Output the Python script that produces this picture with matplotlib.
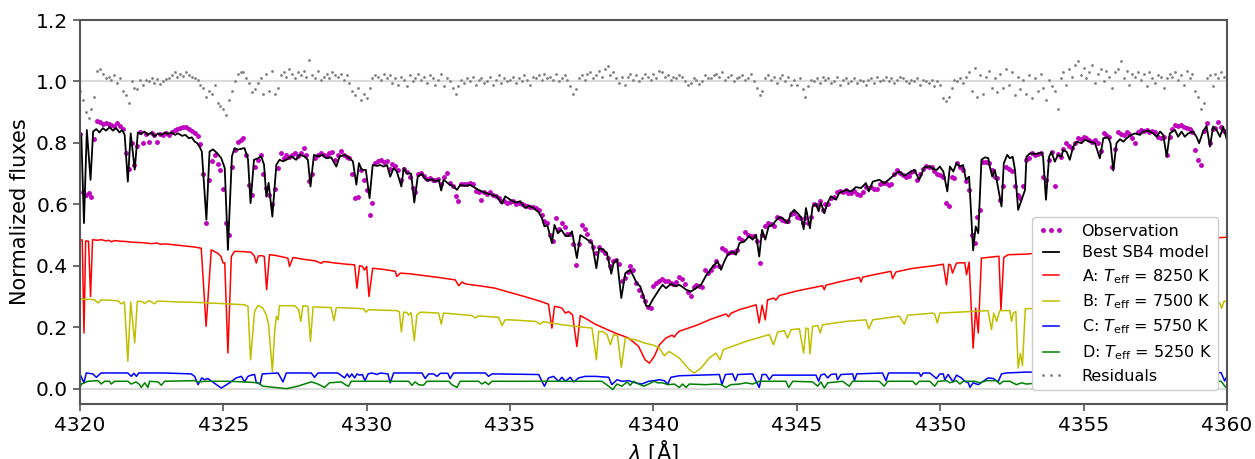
import numpy as np
import matplotlib
matplotlib.use("Agg")
import matplotlib.pyplot as plt

# observed spectrum, sampled every 0.1 A from 4320 to 4360
obs_wave = np.linspace(4320.0, 4360.0, 401)
obs_flux = [
    0.830, 0.640, 0.630, 0.636, 0.623, 0.812, 0.870, 0.868, 0.862, 0.864,
    0.860, 0.859, 0.855, 0.864, 0.855, 0.845, 0.766, 0.714, 0.800, 0.729,
    0.790, 0.837, 0.801, 0.828, 0.804, 0.832, 0.826, 0.804, 0.829, 0.826,
    0.832, 0.826, 0.836, 0.842, 0.845, 0.848, 0.851, 0.853, 0.845, 0.838,
    0.831, 0.821, 0.795, 0.700, 0.540, 0.680, 0.740, 0.760, 0.730, 0.712,
    0.650, 0.540, 0.500, 0.720, 0.777, 0.804, 0.810, 0.815, 0.760, 0.664,
    0.630, 0.723, 0.745, 0.761, 0.700, 0.652, 0.630, 0.600, 0.650, 0.718,
    0.766, 0.752, 0.761, 0.755, 0.761, 0.766, 0.758, 0.766, 0.783, 0.760,
    0.675, 0.700, 0.750, 0.761, 0.766, 0.761, 0.757, 0.766, 0.770, 0.745,
    0.760, 0.772, 0.761, 0.755, 0.750, 0.700, 0.620, 0.624, 0.712, 0.680,
    0.648, 0.565, 0.605, 0.735, 0.740, 0.745, 0.738, 0.742, 0.715, 0.730,
    0.725, 0.712, 0.680, 0.715, 0.706, 0.690, 0.653, 0.640, 0.700, 0.703,
    0.692, 0.684, 0.686, 0.680, 0.678, 0.683, 0.665, 0.690, 0.701, 0.668,
    0.660, 0.626, 0.610, 0.665, 0.667, 0.665, 0.668, 0.665, 0.645, 0.640,
    0.615, 0.640, 0.635, 0.640, 0.630, 0.626, 0.620, 0.610, 0.612, 0.605,
    0.608, 0.612, 0.600, 0.605, 0.600, 0.598, 0.595, 0.590, 0.592, 0.588,
    0.580, 0.565, 0.545, 0.540, 0.500, 0.480, 0.555, 0.520, 0.540, 0.525,
    0.505, 0.505, 0.470, 0.404, 0.470, 0.533, 0.520, 0.505, 0.480, 0.460,
    0.440, 0.460, 0.452, 0.440, 0.425, 0.400, 0.415, 0.420, 0.405, 0.350,
    0.360, 0.380, 0.398, 0.387, 0.345, 0.322, 0.300, 0.284, 0.265, 0.262,
    0.333, 0.345, 0.350, 0.358, 0.350, 0.350, 0.345, 0.340, 0.348, 0.362,
    0.358, 0.340, 0.316, 0.300, 0.330, 0.338, 0.333, 0.330, 0.387, 0.376,
    0.385, 0.400, 0.414, 0.400, 0.457, 0.450, 0.440, 0.446, 0.446, 0.452,
    0.490, 0.485, 0.510, 0.500, 0.496, 0.496, 0.480, 0.409, 0.500, 0.530,
    0.539, 0.535, 0.528, 0.560, 0.555, 0.550, 0.545, 0.545, 0.568, 0.571,
    0.560, 0.555, 0.540, 0.555, 0.539, 0.560, 0.600, 0.598, 0.610, 0.580,
    0.600, 0.600, 0.620, 0.625, 0.640, 0.645, 0.640, 0.647, 0.637, 0.638,
    0.642, 0.635, 0.630, 0.640, 0.658, 0.652, 0.655, 0.650, 0.650, 0.665,
    0.668, 0.669, 0.663, 0.665, 0.700, 0.712, 0.701, 0.696, 0.690, 0.692,
    0.706, 0.710, 0.680, 0.700, 0.715, 0.726, 0.723, 0.720, 0.707, 0.700,
    0.696, 0.690, 0.604, 0.593, 0.690, 0.685, 0.734, 0.720, 0.712, 0.675,
    0.647, 0.500, 0.473, 0.560, 0.582, 0.739, 0.739, 0.734, 0.712, 0.690,
    0.685, 0.615, 0.660, 0.723, 0.715, 0.707, 0.660, 0.630, 0.620, 0.660,
    0.745, 0.750, 0.766, 0.761, 0.763, 0.768, 0.690, 0.680, 0.745, 0.770,
    0.660, 0.765, 0.755, 0.780, 0.800, 0.790, 0.785, 0.800, 0.815, 0.812,
    0.820, 0.815, 0.808, 0.804, 0.810, 0.800, 0.775, 0.831, 0.826, 0.820,
    0.720, 0.780, 0.837, 0.830, 0.826, 0.835, 0.830, 0.815, 0.800, 0.835,
    0.842, 0.840, 0.842, 0.837, 0.840, 0.837, 0.820, 0.815, 0.820, 0.760,
    0.820, 0.845, 0.858, 0.855, 0.858, 0.853, 0.850, 0.845, 0.835, 0.777,
    0.745, 0.728, 0.840, 0.864, 0.800, 0.845, 0.850, 0.869, 0.853, 0.840,
    0.830,
]

# residuals (obs - model) on the same grid, in units of 1e-3, shifted to 1.0
resid_milli = [
    -30, -60, -100, -120, -90, -50, 35, 40, 25, 10,
    15, 5, 20, -5, 10, -30, -45, -70, 0, -20,
    -25, 5, -10, 5, 0, 10, -5, 8, -8, 3,
    8, 12, 20, 30, 15, 25, 18, 30, 22, 15,
    10, 5, -10, -20, -50, -30, -40, -10, -70, -80,
    -90, -110, -60, -30, 0, 25, 30, 32, 10, -5,
    -35, -25, -5, 10, -40, 25, -30, 35, -40, -20,
    20, 30, 15, 40, 25, 10, 30, 20, 35, 15,
    70, 20, 10, 35, 5, 15, 25, 10, 30, 20,
    15, 25, 5, 20, -5, -30, -45, -20, -60, -40,
    -55, -20, 10, 20, 15, 5, 25, 10, 20, -5,
    10, -10, 15, 5, -15, 20, 0, 10, 25, 5,
    15, -5, 20, 10, -10, 5, 25, -15, 10, 0,
    -20, -40, -15, 5, -5, 10, 0, 15, -10, 5,
    10, -5, 0, 15, -10, 5, 20, -5, 10, 0,
    5, 15, -5, 10, 0, 20, 5, -10, 15, 10,
    20, 5, 25, 10, 15, 5, 25, 0, 10, 20,
    5, -15, -40, -25, 10, 20, 5, 25, 30, 10,
    20, 35, 15, 40, 50, 20, 30, 10, -5, 15,
    -10, 15, 25, 5, 20, 0, 10, 25, 15, 5,
    25, 10, 35, 30, 15, 20, 5, 15, 10, 20,
    15, 0, -10, -5, 10, 5, -8, 0, 20, 10,
    10, 20, 25, 15, 30, 5, 15, 20, 0, 10,
    15, 20, 5, 10, 25, 0, -20, -45, -30, 10,
    20, 5, 15, -5, 10, 20, 0, 15, -10, 5,
    -10, 10, -25, -50, -15, 5, 0, 10, -5, 15,
    5, 10, -5, 0, 15, -10, 5, 10, -5, 0,
    10, -5, 5, 0, -10, 5, 10, -5, 15, 0,
    5, 15, 0, 10, -5, 5, 15, 10, 0, -5,
    5, 0, 10, -10, 5, 0, -5, 5, -15, 0,
    -10, -55, -65, -50, -20, 5, 0, 10, -5, 15,
    30, -30, 45, -50, 20, -40, 15, 35, -20, 10,
    -35, 25, -20, 40, -10, 30, -45, 15, -25, 5,
    -40, 20, -55, 10, -30, 25, -20, -60, 5, -15,
    -30, -90, 10, 30, -10, 40, 15, 55, 65, 20,
    45, 10, 30, 55, -5, 25, 40, 0, 35, 15,
    -20, 30, 40, 65, 10, 35, -10, 25, 15, 30,
    5, 25, -15, 30, 10, -5, 20, 15, -20, 10,
    25, 15, 30, 5, 20, -10, 35, 10, 25, -30,
    -50, -90, -70, 10, 20, -15, 25, 10, 30, 15,
    5,
]

# best-fit composite model, (wavelength, flux)
model = [
    (4320.00, 0.837), (4320.05, 0.820), (4320.14, 0.539), (4320.24, 0.842), (4320.37, 0.680),
    (4320.46, 0.837), (4320.57, 0.845), (4320.68, 0.834), (4320.80, 0.848), (4320.91, 0.840),
    (4321.03, 0.851), (4321.15, 0.840), (4321.26, 0.848), (4321.38, 0.834), (4321.47, 0.842),
    (4321.56, 0.826), (4321.67, 0.674), (4321.77, 0.831), (4321.91, 0.713), (4322.02, 0.834),
    (4322.14, 0.829), (4322.25, 0.837), (4322.37, 0.826), (4322.49, 0.834), (4322.60, 0.821),
    (4322.72, 0.831), (4322.84, 0.826), (4322.96, 0.834), (4323.07, 0.829), (4323.19, 0.834),
    (4323.31, 0.826), (4323.42, 0.831), (4323.56, 0.823), (4323.68, 0.826), (4323.80, 0.815),
    (4323.90, 0.818), (4324.00, 0.804), (4324.08, 0.800), (4324.17, 0.788), (4324.25, 0.772),
    (4324.41, 0.550), (4324.52, 0.772), (4324.64, 0.779), (4324.79, 0.766), (4324.93, 0.750),
    (4325.05, 0.718), (4325.16, 0.452), (4325.30, 0.756), (4325.39, 0.783), (4325.51, 0.778),
    (4325.63, 0.781), (4325.74, 0.783), (4325.86, 0.747), (4325.95, 0.604), (4326.07, 0.745),
    (4326.21, 0.750), (4326.32, 0.756), (4326.42, 0.729), (4326.50, 0.625), (4326.58, 0.670),
    (4326.71, 0.560), (4326.85, 0.729), (4326.96, 0.745), (4327.08, 0.740), (4327.20, 0.745),
    (4327.37, 0.756), (4327.54, 0.745), (4327.66, 0.761), (4327.83, 0.756), (4327.95, 0.745),
    (4328.04, 0.658), (4328.16, 0.761), (4328.30, 0.756), (4328.47, 0.761), (4328.59, 0.750),
    (4328.76, 0.753), (4328.94, 0.723), (4329.06, 0.756), (4329.23, 0.761), (4329.40, 0.750),
    (4329.52, 0.740), (4329.64, 0.664), (4329.73, 0.734), (4329.83, 0.712), (4329.97, 0.712),
    (4330.10, 0.620), (4330.21, 0.728), (4330.36, 0.725), (4330.47, 0.728), (4330.59, 0.723),
    (4330.71, 0.728), (4330.82, 0.690), (4330.94, 0.718), (4331.05, 0.707), (4331.21, 0.658),
    (4331.29, 0.718), (4331.40, 0.701), (4331.55, 0.700), (4331.66, 0.606), (4331.78, 0.690),
    (4331.93, 0.699), (4332.04, 0.682), (4332.16, 0.677), (4332.28, 0.682), (4332.39, 0.674),
    (4332.51, 0.680), (4332.60, 0.645), (4332.68, 0.680), (4332.80, 0.671), (4332.91, 0.663),
    (4333.03, 0.658), (4333.15, 0.647), (4333.26, 0.663), (4333.44, 0.660), (4333.61, 0.663),
    (4333.79, 0.653), (4333.90, 0.647), (4334.02, 0.642), (4334.19, 0.636), (4334.37, 0.631),
    (4334.54, 0.626), (4334.72, 0.602), (4334.83, 0.626), (4335.01, 0.615), (4335.18, 0.606),
    (4335.36, 0.610), (4335.53, 0.588), (4335.65, 0.595), (4335.82, 0.588), (4336.00, 0.574),
    (4336.11, 0.555), (4336.20, 0.528), (4336.30, 0.532), (4336.46, 0.474), (4336.55, 0.533),
    (4336.67, 0.506), (4336.79, 0.517), (4336.93, 0.497), (4337.04, 0.497), (4337.16, 0.512),
    (4337.33, 0.425), (4337.45, 0.500), (4337.62, 0.490), (4337.86, 0.474), (4338.01, 0.392),
    (4338.11, 0.457), (4338.23, 0.454), (4338.38, 0.441), (4338.53, 0.374), (4338.61, 0.409),
    (4338.73, 0.420), (4338.88, 0.295), (4339.02, 0.376), (4339.19, 0.387), (4339.31, 0.365),
    (4339.42, 0.343), (4339.54, 0.333), (4339.66, 0.300), (4339.74, 0.270), (4339.85, 0.268),
    (4339.97, 0.289), (4340.21, 0.324), (4340.32, 0.338), (4340.44, 0.327), (4340.61, 0.341),
    (4340.79, 0.333), (4340.90, 0.338), (4341.02, 0.331), (4341.14, 0.322), (4341.31, 0.316),
    (4341.48, 0.327), (4341.66, 0.338), (4341.83, 0.367), (4342.07, 0.398), (4342.24, 0.414),
    (4342.36, 0.387), (4342.47, 0.414), (4342.59, 0.436), (4342.76, 0.446), (4342.88, 0.436),
    (4343.00, 0.474), (4343.17, 0.479), (4343.34, 0.496), (4343.46, 0.485), (4343.58, 0.501),
    (4343.63, 0.468), (4343.69, 0.430), (4343.79, 0.517), (4343.90, 0.485), (4344.02, 0.528),
    (4344.16, 0.533), (4344.27, 0.547), (4344.39, 0.558), (4344.51, 0.555), (4344.68, 0.539),
    (4344.80, 0.571), (4344.91, 0.582), (4345.03, 0.571), (4345.15, 0.558), (4345.24, 0.519),
    (4345.32, 0.588), (4345.46, 0.522), (4345.55, 0.593), (4345.67, 0.602), (4345.76, 0.577),
    (4345.84, 0.606), (4345.96, 0.571), (4346.08, 0.606), (4346.19, 0.626), (4346.37, 0.615),
    (4346.48, 0.637), (4346.72, 0.647), (4346.89, 0.642), (4347.06, 0.656), (4347.24, 0.653),
    (4347.41, 0.669), (4347.51, 0.642), (4347.65, 0.674), (4347.88, 0.680), (4348.05, 0.669),
    (4348.23, 0.682), (4348.40, 0.696), (4348.57, 0.707), (4348.75, 0.693), (4348.92, 0.703),
    (4349.10, 0.712), (4349.27, 0.680), (4349.45, 0.721), (4349.64, 0.723), (4349.76, 0.715),
    (4349.88, 0.712), (4349.99, 0.723), (4350.11, 0.707), (4350.25, 0.642), (4350.34, 0.723),
    (4350.46, 0.707), (4350.57, 0.734), (4350.69, 0.723), (4350.80, 0.728), (4350.90, 0.680),
    (4351.01, 0.690), (4351.15, 0.450), (4351.24, 0.528), (4351.33, 0.506), (4351.44, 0.745),
    (4351.56, 0.753), (4351.68, 0.750), (4351.73, 0.723), (4351.82, 0.690), (4351.91, 0.712),
    (4351.97, 0.680), (4352.14, 0.593), (4352.22, 0.734), (4352.34, 0.761), (4352.43, 0.750),
    (4352.53, 0.755), (4352.61, 0.712), (4352.72, 0.582), (4352.84, 0.615), (4352.96, 0.647),
    (4353.01, 0.755), (4353.13, 0.766), (4353.36, 0.764), (4353.54, 0.768), (4353.59, 0.755),
    (4353.69, 0.615), (4353.80, 0.755), (4353.88, 0.771), (4354.00, 0.739), (4354.11, 0.761),
    (4354.23, 0.755), (4354.29, 0.777), (4354.41, 0.771), (4354.52, 0.745), (4354.64, 0.788),
    (4354.76, 0.804), (4354.93, 0.799), (4355.05, 0.810), (4355.22, 0.804), (4355.40, 0.799),
    (4355.57, 0.750), (4355.69, 0.815), (4355.86, 0.818), (4355.94, 0.799), (4356.04, 0.710),
    (4356.15, 0.799), (4356.27, 0.812), (4356.39, 0.804), (4356.50, 0.815), (4356.62, 0.823),
    (4356.79, 0.831), (4356.97, 0.826), (4357.08, 0.837), (4357.26, 0.840), (4357.43, 0.831),
    (4357.55, 0.820), (4357.67, 0.837), (4357.78, 0.826), (4357.90, 0.755), (4358.01, 0.831),
    (4358.19, 0.842), (4358.30, 0.820), (4358.42, 0.837), (4358.53, 0.820), (4358.65, 0.831),
    (4358.82, 0.837), (4358.94, 0.820), (4359.03, 0.799), (4359.17, 0.837), (4359.29, 0.855),
    (4359.41, 0.788), (4359.52, 0.853), (4359.64, 0.842), (4359.76, 0.820), (4359.87, 0.853),
    (4360.00, 0.810),
]

# component A, Teff = 8250 K
comp_a = [
    (4320.00, 0.485), (4320.08, 0.484), (4320.14, 0.181), (4320.20, 0.481), (4320.30, 0.480),
    (4320.37, 0.300), (4320.44, 0.485), (4320.60, 0.483), (4320.75, 0.485), (4320.90, 0.481),
    (4321.00, 0.483), (4321.10, 0.478), (4321.20, 0.482), (4321.40, 0.480), (4321.60, 0.479),
    (4321.80, 0.477), (4322.00, 0.476), (4322.20, 0.475), (4322.50, 0.472), (4322.70, 0.474),
    (4322.80, 0.470), (4323.00, 0.471), (4323.40, 0.467), (4323.80, 0.463), (4324.00, 0.461),
    (4324.23, 0.457), (4324.40, 0.203), (4324.58, 0.452), (4324.80, 0.441), (4324.92, 0.430),
    (4324.99, 0.409), (4325.05, 0.410), (4325.16, 0.116), (4325.28, 0.430), (4325.39, 0.447),
    (4325.70, 0.446), (4325.97, 0.444), (4326.08, 0.432), (4326.15, 0.409), (4326.22, 0.432),
    (4326.35, 0.433), (4326.43, 0.430), (4326.51, 0.322), (4326.61, 0.436), (4326.80, 0.434),
    (4327.25, 0.425), (4327.31, 0.398), (4327.43, 0.427), (4327.80, 0.421), (4328.20, 0.416),
    (4328.42, 0.408), (4328.50, 0.414), (4328.90, 0.409), (4329.30, 0.405), (4329.58, 0.403),
    (4329.66, 0.327), (4329.75, 0.400), (4329.85, 0.398), (4329.92, 0.386), (4330.00, 0.398),
    (4330.08, 0.300), (4330.21, 0.392), (4330.60, 0.388), (4331.00, 0.382), (4331.05, 0.365),
    (4331.17, 0.376), (4331.50, 0.374), (4332.00, 0.368), (4332.50, 0.362), (4333.09, 0.354),
    (4333.21, 0.335), (4333.32, 0.347), (4333.40, 0.343), (4333.50, 0.340), (4334.00, 0.334),
    (4334.48, 0.327), (4335.00, 0.313), (4335.50, 0.300), (4336.00, 0.286), (4336.34, 0.275),
    (4336.46, 0.197), (4336.55, 0.268), (4336.75, 0.264), (4336.81, 0.262), (4336.93, 0.246),
    (4337.04, 0.251), (4337.18, 0.240), (4337.33, 0.137), (4337.45, 0.238), (4337.70, 0.225),
    (4337.97, 0.210), (4338.30, 0.196), (4338.67, 0.181), (4339.13, 0.165), (4339.48, 0.138),
    (4339.71, 0.094), (4339.86, 0.083), (4340.03, 0.105), (4340.21, 0.143), (4340.44, 0.165),
    (4340.65, 0.174), (4340.73, 0.168), (4340.80, 0.178), (4340.90, 0.187), (4341.50, 0.206),
    (4342.00, 0.226), (4342.53, 0.243), (4342.62, 0.234), (4342.70, 0.245), (4342.99, 0.257),
    (4343.30, 0.265), (4343.58, 0.273), (4343.69, 0.214), (4343.79, 0.272), (4343.90, 0.224),
    (4343.98, 0.289), (4344.20, 0.295), (4344.27, 0.288), (4344.39, 0.303), (4345.00, 0.318),
    (4345.90, 0.335), (4345.96, 0.322), (4346.02, 0.337), (4346.60, 0.350), (4347.18, 0.362),
    (4347.24, 0.347), (4347.30, 0.363), (4347.80, 0.373), (4348.28, 0.382), (4348.34, 0.358),
    (4348.46, 0.380), (4349.00, 0.391), (4349.85, 0.401), (4350.11, 0.405), (4350.22, 0.338),
    (4350.30, 0.405), (4350.36, 0.403), (4350.43, 0.376), (4350.57, 0.409), (4350.86, 0.410),
    (4350.92, 0.371), (4351.01, 0.412), (4351.15, 0.132), (4351.24, 0.262), (4351.33, 0.181),
    (4351.44, 0.425), (4351.97, 0.430), (4352.05, 0.431), (4352.12, 0.257), (4352.22, 0.427),
    (4352.37, 0.436), (4353.01, 0.438), (4354.00, 0.447), (4355.00, 0.456), (4356.00, 0.465),
    (4357.00, 0.473), (4358.00, 0.480), (4359.00, 0.487), (4360.00, 0.493),
]

# component B, Teff = 7500 K
comp_b = [
    (4320.00, 0.293), (4320.20, 0.290), (4320.35, 0.291), (4320.51, 0.289), (4320.63, 0.279),
    (4320.74, 0.289), (4321.00, 0.288), (4321.33, 0.286), (4321.44, 0.276), (4321.55, 0.282),
    (4321.67, 0.089), (4321.77, 0.282), (4321.91, 0.149), (4322.00, 0.284), (4322.15, 0.284),
    (4322.26, 0.277), (4322.35, 0.284), (4322.43, 0.286), (4322.60, 0.276), (4322.70, 0.285),
    (4323.00, 0.284), (4323.42, 0.282), (4324.00, 0.281), (4324.50, 0.279), (4325.16, 0.276),
    (4325.74, 0.273), (4325.86, 0.268), (4325.95, 0.094), (4326.09, 0.251), (4326.21, 0.271),
    (4326.38, 0.262), (4326.50, 0.240), (4326.58, 0.208), (4326.71, 0.056), (4326.79, 0.186),
    (4326.85, 0.235), (4326.91, 0.224), (4326.96, 0.270), (4327.49, 0.270), (4327.63, 0.257),
    (4327.70, 0.219), (4327.78, 0.270), (4327.95, 0.268), (4328.04, 0.154), (4328.13, 0.266),
    (4328.76, 0.264), (4328.86, 0.221), (4328.94, 0.264), (4329.50, 0.262), (4329.90, 0.260),
    (4329.97, 0.249), (4330.07, 0.257), (4331.05, 0.254), (4331.14, 0.250), (4331.21, 0.185),
    (4331.29, 0.249), (4331.40, 0.248), (4331.46, 0.240), (4331.55, 0.247), (4331.66, 0.156),
    (4331.75, 0.240), (4331.87, 0.249), (4332.51, 0.246), (4332.60, 0.210), (4332.68, 0.246),
    (4333.67, 0.238), (4333.79, 0.230), (4333.90, 0.237), (4334.60, 0.232), (4334.72, 0.206),
    (4334.83, 0.224), (4335.01, 0.224), (4335.88, 0.219), (4336.05, 0.210), (4336.15, 0.218),
    (4336.81, 0.208), (4337.86, 0.197), (4338.01, 0.094), (4338.09, 0.186), (4338.23, 0.186),
    (4338.38, 0.176), (4338.50, 0.143), (4338.61, 0.176), (4338.75, 0.172), (4338.88, 0.069),
    (4339.02, 0.165), (4339.37, 0.159), (4339.71, 0.148), (4340.02, 0.141), (4340.21, 0.132),
    (4340.38, 0.107), (4340.55, 0.121), (4340.90, 0.100), (4341.25, 0.062), (4341.43, 0.051),
    (4341.66, 0.067), (4341.95, 0.100), (4342.18, 0.116), (4342.32, 0.094), (4342.44, 0.127),
    (4343.23, 0.154), (4344.04, 0.176), (4344.19, 0.143), (4344.33, 0.184), (4344.56, 0.189),
    (4344.68, 0.165), (4344.80, 0.192), (4345.09, 0.195), (4345.24, 0.116), (4345.32, 0.197),
    (4345.40, 0.195), (4345.46, 0.113), (4345.55, 0.202), (4345.73, 0.206), (4345.82, 0.181),
    (4345.90, 0.208), (4346.72, 0.219), (4347.41, 0.224), (4347.51, 0.195), (4347.65, 0.224),
    (4348.57, 0.236), (4348.75, 0.210), (4348.87, 0.239), (4349.74, 0.246), (4349.81, 0.243),
    (4349.90, 0.214), (4349.99, 0.246), (4351.04, 0.251), (4351.67, 0.254), (4351.79, 0.192),
    (4351.87, 0.246), (4351.97, 0.219), (4352.08, 0.254), (4352.43, 0.254), (4352.49, 0.219),
    (4352.55, 0.246), (4352.64, 0.251), (4352.72, 0.067), (4352.80, 0.115), (4352.87, 0.075),
    (4352.97, 0.260), (4353.50, 0.262), (4354.50, 0.266), (4355.50, 0.270), (4356.50, 0.273),
    (4357.50, 0.277), (4358.50, 0.280), (4359.50, 0.282), (4359.75, 0.279), (4359.82, 0.262),
    (4359.90, 0.285), (4360.00, 0.283),
]

# component C, Teff = 5750 K
comp_c = [
    (4320.00, 0.048), (4320.14, 0.019), (4320.22, 0.051), (4320.45, 0.048), (4320.57, 0.037),
    (4320.74, 0.051), (4321.67, 0.051), (4321.79, 0.040), (4321.88, 0.050), (4321.97, 0.040),
    (4322.05, 0.051), (4322.95, 0.051), (4323.88, 0.048), (4324.00, 0.040), (4324.12, 0.013),
    (4324.25, 0.035), (4324.35, 0.029), (4324.46, 0.033), (4324.93, 0.002), (4325.22, 0.019),
    (4325.45, 0.035), (4325.63, 0.040), (4325.74, 0.022), (4325.86, 0.040), (4325.97, 0.044),
    (4326.09, 0.046), (4326.15, 0.020), (4326.28, 0.015), (4326.36, 0.048), (4326.91, 0.051),
    (4327.08, 0.022), (4327.20, 0.051), (4328.07, 0.051), (4328.18, 0.037), (4328.30, 0.051),
    (4328.99, 0.051), (4329.23, 0.035), (4329.32, 0.048), (4329.40, 0.037), (4329.48, 0.048),
    (4329.58, 0.035), (4329.66, 0.048), (4329.75, 0.044), (4329.85, 0.046), (4329.94, 0.026),
    (4330.05, 0.048), (4330.18, 0.051), (4330.36, 0.046), (4330.47, 0.051), (4330.74, 0.048),
    (4330.82, 0.019), (4330.94, 0.051), (4331.93, 0.051), (4332.04, 0.033), (4332.16, 0.048),
    (4332.33, 0.048), (4332.45, 0.040), (4332.57, 0.050), (4332.83, 0.050), (4332.91, 0.033),
    (4333.03, 0.051), (4334.14, 0.051), (4334.25, 0.040), (4334.37, 0.048), (4336.00, 0.046),
    (4336.11, 0.024), (4336.20, 0.008), (4336.34, 0.035), (4336.52, 0.040), (4336.69, 0.024),
    (4336.81, 0.037), (4336.93, 0.024), (4337.10, 0.037), (4337.22, 0.022), (4337.39, 0.035),
    (4337.62, 0.040), (4337.97, 0.040), (4338.44, 0.037), (4338.55, 0.013), (4338.73, 0.029),
    (4338.90, 0.024), (4339.13, 0.026), (4339.37, 0.019), (4339.60, 0.015), (4339.83, 0.024),
    (4340.02, 0.026), (4340.21, 0.029), (4340.38, 0.026), (4340.50, 0.015), (4340.61, 0.037),
    (4340.79, 0.040), (4340.90, 0.042), (4342.30, 0.046), (4342.39, 0.013), (4342.51, 0.046),
    (4342.76, 0.048), (4342.86, 0.026), (4342.94, 0.046), (4343.46, 0.048), (4343.58, 0.024),
    (4343.69, 0.004), (4343.79, 0.046), (4343.93, 0.046), (4344.04, 0.029), (4344.16, 0.044),
    (4345.67, 0.044), (4345.76, 0.024), (4345.84, 0.044), (4345.96, 0.048), (4346.08, 0.035),
    (4346.19, 0.046), (4346.37, 0.048), (4346.42, 0.029), (4346.54, 0.046), (4346.95, 0.048),
    (4347.01, 0.026), (4347.09, 0.048), (4347.99, 0.051), (4348.11, 0.026), (4348.20, 0.051),
    (4349.27, 0.051), (4349.33, 0.040), (4349.41, 0.051), (4349.64, 0.051), (4349.87, 0.033),
    (4349.99, 0.048), (4350.11, 0.048), (4350.16, 0.029), (4350.28, 0.046), (4350.45, 0.022),
    (4350.57, 0.044), (4350.74, 0.035), (4350.86, 0.024), (4350.98, 0.019), (4351.04, 0.004),
    (4351.15, 0.019), (4351.33, 0.013), (4351.50, 0.024), (4351.67, 0.035), (4351.85, 0.033),
    (4352.02, 0.022), (4352.14, 0.048), (4352.31, 0.051), (4353.01, 0.054), (4354.00, 0.052),
    (4356.00, 0.052), (4358.00, 0.052), (4359.80, 0.052), (4359.92, 0.025), (4360.00, 0.040),
]

# component D, Teff = 5250 K
comp_d = [
    (4320.00, 0.002), (4320.05, 0.015), (4320.28, 0.024), (4320.63, 0.026), (4320.74, 0.015),
    (4320.86, 0.024), (4321.03, 0.024), (4321.09, 0.015), (4321.21, 0.024), (4321.67, 0.024),
    (4321.79, 0.015), (4321.96, 0.022), (4322.08, 0.013), (4322.14, 0.004), (4322.26, 0.019),
    (4322.37, 0.004), (4322.43, 0.024), (4322.72, 0.022), (4322.84, 0.011), (4322.95, 0.024),
    (4324.00, 0.026), (4324.12, 0.022), (4324.35, 0.024), (4325.16, 0.024), (4325.74, 0.022),
    (4326.21, 0.019), (4326.38, 0.008), (4326.79, 0.004), (4327.20, 0.000), (4327.60, 0.008),
    (4327.83, 0.015), (4328.07, 0.022), (4328.30, 0.015), (4328.53, 0.004), (4328.70, 0.019),
    (4329.11, 0.022), (4329.29, 0.011), (4329.37, 0.008), (4329.46, 0.024), (4330.10, 0.024),
    (4331.46, 0.024), (4331.58, 0.011), (4331.69, 0.022), (4331.81, 0.013), (4331.98, 0.011),
    (4332.10, 0.024), (4332.86, 0.024), (4332.97, 0.013), (4333.15, 0.004), (4333.26, 0.024),
    (4333.90, 0.024), (4334.02, 0.015), (4334.14, 0.022), (4334.25, 0.013), (4334.37, 0.024),
    (4338.20, 0.024), (4338.44, 0.008), (4338.58, -0.003), (4338.73, 0.015), (4338.90, 0.008),
    (4339.08, 0.022), (4339.19, 0.011), (4339.31, 0.024), (4339.48, 0.015), (4339.66, 0.008),
    (4339.83, 0.015), (4340.02, 0.024), (4340.15, 0.019), (4340.32, 0.019), (4340.50, 0.013),
    (4340.73, 0.015), (4340.90, 0.004), (4341.02, 0.015), (4341.14, 0.004), (4341.25, 0.015),
    (4341.83, 0.013), (4342.18, 0.015), (4342.36, 0.013), (4342.53, 0.004), (4342.70, 0.013),
    (4343.00, 0.015), (4343.23, 0.019), (4343.46, 0.015), (4343.69, 0.024), (4344.62, 0.024),
    (4344.72, 0.004), (4344.86, 0.024), (4345.55, 0.022), (4345.73, 0.008), (4345.84, 0.022),
    (4345.96, 0.002), (4346.08, 0.019), (4346.60, 0.024), (4346.83, 0.008), (4346.95, 0.024),
    (4347.88, 0.024), (4348.05, 0.008), (4348.17, 0.024), (4349.04, 0.024), (4349.16, 0.013),
    (4349.27, 0.024), (4349.64, 0.024), (4349.81, 0.008), (4349.93, 0.024), (4350.22, 0.026),
    (4350.34, 0.019), (4350.57, 0.026), (4350.69, 0.015), (4350.80, 0.024), (4351.21, 0.024),
    (4351.38, 0.019), (4351.62, 0.026), (4351.97, 0.026), (4352.08, 0.015), (4352.20, 0.024),
    (4352.43, 0.024), (4352.66, 0.013), (4352.84, 0.019), (4353.01, 0.015), (4354.00, 0.024),
    (4356.00, 0.024), (4358.00, 0.024), (4359.80, 0.024), (4359.95, 0.005), (4360.00, 0.010),
]

model_wave, model_flux = np.array(model).T
a_wave, a_flux = np.array(comp_a).T
b_wave, b_flux = np.array(comp_b).T
c_wave, c_flux = np.array(comp_c).T
d_wave, d_flux = np.array(comp_d).T
resid = 1.0 + np.array(resid_milli) / 1000.0

fig = plt.figure(figsize=(12.55, 4.59), dpi=100)
ax = fig.add_axes([0.0637, 0.1198, 0.9139, 0.8366])

ax.axhline(1.0, color="#dcdcdc", lw=1.5, zorder=0)
ax.axhline(0.0, color="#dcdcdc", lw=1.5, zorder=0)

ax.plot(obs_wave, obs_flux, ".", color="m", ms=5, label="Observation")
ax.plot(model_wave, model_flux, "-", color="k", lw=1.3, label="Best SB4 model")
ax.plot(a_wave, a_flux, "-", color="r", lw=1.1, label=r"A: $T_{\mathrm{eff}}$ = 8250 K")
ax.plot(b_wave, b_flux, "-", color="y", lw=1.1, label=r"B: $T_{\mathrm{eff}}$ = 7500 K")
ax.plot(c_wave, c_flux, "-", color="b", lw=1.1, label=r"C: $T_{\mathrm{eff}}$ = 5750 K")
ax.plot(d_wave, d_flux, "-", color="g", lw=1.1, label=r"D: $T_{\mathrm{eff}}$ = 5250 K")
ax.plot(obs_wave, resid, ".", color="gray", ms=2, label="Residuals")

ax.set_xlim(4320, 4360)
ax.set_ylim(-0.05, 1.2)
ax.set_xticks(np.arange(4320, 4361, 5))
ax.set_yticks(np.arange(0.0, 1.21, 0.2))
ax.set_xlabel(r"$\lambda$ [Å]", fontsize=15, labelpad=2)
ax.set_ylabel("Normalized fluxes", fontsize=15)
ax.tick_params(labelsize=14.5, length=5, width=1.2, color="#555555")
for sp in ax.spines.values():
    sp.set_color("#555555")
    sp.set_linewidth(1.5)

ax.legend(loc="lower right", bbox_to_anchor=(0.9922, 0.0365), borderaxespad=0,
          numpoints=3, fontsize=11.5, framealpha=1, edgecolor="#cccccc",
          handlelength=1.6, handletextpad=1.1, borderpad=0.4, labelspacing=0.42)

fig.savefig("out.png", dpi=100)
